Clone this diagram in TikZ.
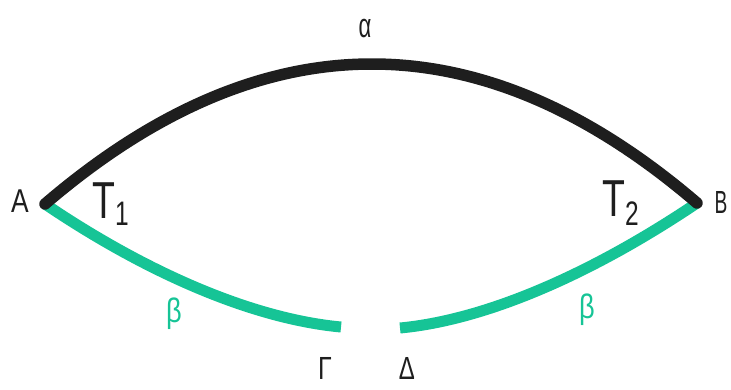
\documentclass[tikz,border=0pt]{standalone}
\usepackage{fontspec}
\setmainfont{Liberation Sans}
\definecolor{arcblack}{RGB}{30,30,30}
\definecolor{arcgreen}{RGB}{22,196,150}
\newcommand{\condtxt}[2]{\scalebox{#1}[1]{#2}}
\begin{document}
\begin{tikzpicture}[x=1pt,y=-1pt,
  blackarc/.style={draw=arcblack,line width=11.5pt,line cap=round},
  greenarc/.style={draw=arcgreen,line width=11pt},
  lbl/.style={inner sep=0pt,text=arcblack},
  glbl/.style={inner sep=0pt,text=arcgreen,font=\fontsize{34}{34}\selectfont}]
\useasboundingbox (0,0) rectangle (731,389);
\coordinate (A) at (45,204);
\coordinate (B) at (697,203);
\coordinate (G) at (341,327);
\coordinate (D) at (400,328);
\draw[greenarc] (A) .. controls (150,275) and (255,319) .. (G);
\draw[greenarc] (D) .. controls (485,320) and (590,275) .. (B);
\draw[blackarc] (A) .. controls (262,18) and (480,17) .. (B);
\node[lbl,anchor=base,font=\fontsize{33}{33}\selectfont] (lA) at (20,212) {\condtxt{0.8}{A}};
\node[lbl,anchor=base,font=\fontsize{32}{32}\selectfont] (lB) at (721,213) {\condtxt{0.6}{B}};
\node[lbl,anchor=base west] (lT1) at (92,218)
  {\condtxt{0.72}{\fontsize{52}{52}\selectfont T\raisebox{-7pt}{\fontsize{34}{34}\selectfont 1}}};
\node[lbl,anchor=base west] (lT2) at (602,216)
  {\condtxt{0.72}{\fontsize{52}{52}\selectfont T\raisebox{-9pt}{\fontsize{34}{34}\selectfont 2}}};
\node[lbl,anchor=base,font=\fontsize{34}{34}\selectfont] (la) at (365,37) {\condtxt{0.65}{α}};
\node[glbl,anchor=base] (lb1) at (174,322) {\condtxt{0.8}{β}};
\node[glbl,anchor=base] (lb2) at (587,318) {\condtxt{0.8}{β}};
\node[lbl,anchor=base,font=\fontsize{32}{32}\selectfont] (lG) at (325,379) {\condtxt{0.78}{Γ}};
\node[lbl,anchor=base,font=\fontsize{32}{32}\selectfont] (lD) at (407,379) {\condtxt{0.75}{Δ}};
\end{tikzpicture}
\end{document}
